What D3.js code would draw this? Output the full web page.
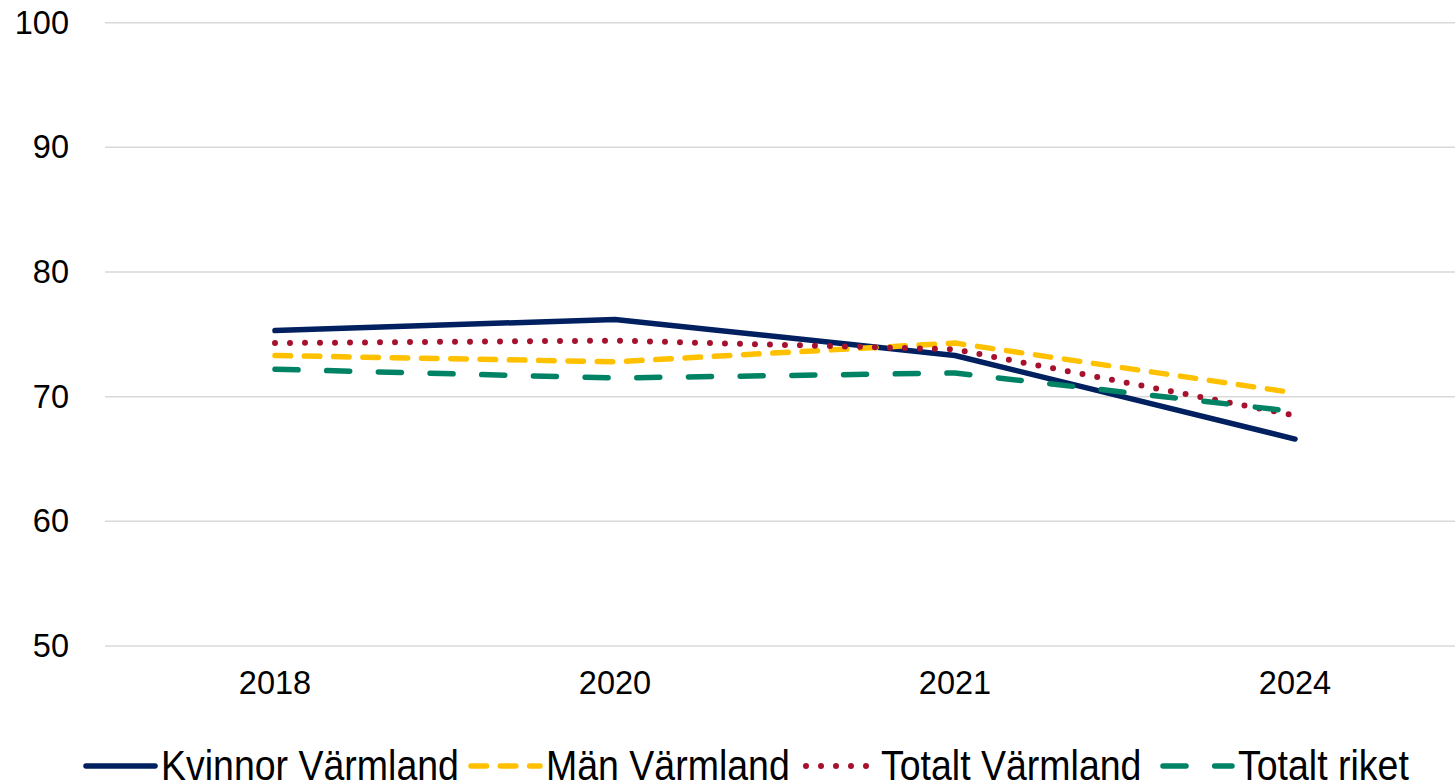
<!DOCTYPE html>
<html>
<head>
<meta charset="utf-8">
<script src="https://cdn.jsdelivr.net/npm/d3@7"></script>
<style>
  body { margin: 0; background: #fff; }
  svg { display: block; }
</style>
</head>
<body>
<div id="chart"></div>
<script>
const WIDTH = 1455;
const HEIGHT = 782;

// data
const years = ["2018", "2020", "2021", "2024"];
const kvinnorVarmland = [75.3, 76.2, 73.3, 66.6];
const manVarmland = [73.3, 72.8, 74.3, 70.3];
const totaltVarmland = [74.3, 74.5, 73.8, 68.5];
const totaltRiket = [72.2, 71.5, 71.9, 68.8];
const yTicks = [50, 60, 70, 80, 90, 100];

const series = [
    { name: "Kvinnor Värmland", values: kvinnorVarmland, color: "#002060", dash: null, width: 5.5 },
    { name: "Män Värmland", values: manVarmland, color: "#FFC000", dash: "15.5 13.8", width: 5.5 },
    { name: "Totalt Värmland", values: totaltVarmland, color: "#A6112E", dash: "0 15", width: 6 },
    { name: "Totalt riket", values: totaltRiket, color: "#008264", dash: "23 28.7", width: 5.5 }
];

const plotLeft = 105;
const plotRight = 1465;

const svg = d3.select("#chart")
    .append("svg")
    .attr("width", WIDTH)
    .attr("height", HEIGHT);

const x = d3.scaleBand()
    .domain(years)
    .range([plotLeft, plotRight]);

const y = d3.scaleLinear()
    .domain([50, 100])
    .range([646, 22.7]);

// gridlines
svg.append("g")
    .selectAll("line")
    .data(yTicks)
    .enter().append("line")
    .attr("x1", plotLeft)
    .attr("x2", WIDTH)
    .attr("y1", d => y(d))
    .attr("y2", d => y(d))
    .style("stroke", "#d9d9d9")
    .style("stroke-width", 1.5);

// y axis labels
const yAxis = svg.append("g")
    .attr("transform", "translate(69,0)")
    .call(d3.axisLeft(y).tickValues(yTicks).tickSize(0).tickPadding(0));
yAxis.select(".domain").remove();
yAxis.selectAll("text")
    .style("font-family", "Liberation Sans, Arial, sans-serif")
    .style("font-size", "32.5px")
    .style("fill", "#000");

// x axis labels
const xAxis = svg.append("g")
    .attr("transform", "translate(0,671)")
    .call(d3.axisBottom(x).tickSize(0).tickPadding(0));
xAxis.select(".domain").remove();
xAxis.selectAll("text")
    .style("font-family", "Liberation Sans, Arial, sans-serif")
    .style("font-size", "32.5px")
    .style("fill", "#000");

const line = d3.line()
    .x((d, i) => x(years[i]) + x.bandwidth() / 2)
    .y(d => y(d));

svg.append("g")
    .selectAll("path")
    .data(series)
    .enter().append("path")
    .attr("d", d => line(d.values))
    .style("fill", "none")
    .style("stroke", d => d.color)
    .style("stroke-width", d => d.width)
    .style("stroke-linecap", "round")
    .style("stroke-linejoin", "round")
    .style("stroke-dasharray", d => d.dash);

// legend
const legendX = [83, 468, 803, 1160];
const legend = svg.append("g")
    .selectAll("g")
    .data(series)
    .enter().append("g")
    .attr("transform", (d, i) => "translate(" + legendX[i] + ",766)");

legend.append("line")
    .attr("x1", 3)
    .attr("x2", 72)
    .style("stroke", d => d.color)
    .style("stroke-width", d => d.width)
    .style("stroke-linecap", "round")
    .style("stroke-dasharray", d => d.dash);

// the legend font is taller than it is wide, so stretch it a little
legend.append("text")
    .attr("transform", "translate(78,14) scale(1,1.12)")
    .text(d => d.name)
    .style("font-family", "Liberation Sans Narrow, Arial Narrow, sans-serif")
    .style("font-size", "37.5px")
    .style("fill", "#000");
</script>
</body>
</html>
